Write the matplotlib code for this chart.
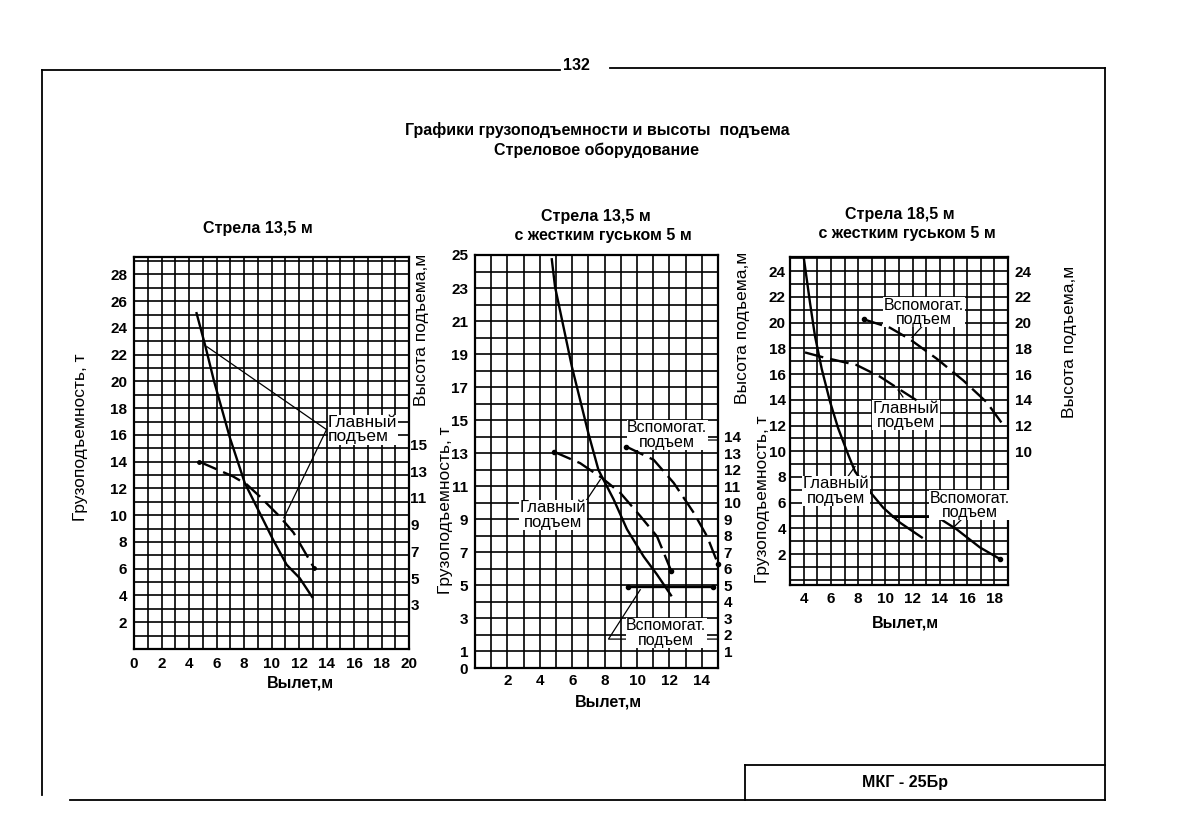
import matplotlib
matplotlib.use("Agg")
import matplotlib.pyplot as plt
from matplotlib.lines import Line2D
import numpy as np

plt.rcParams['font.family'] = ['Liberation Sans', 'DejaVu Sans']

# ---------------- data ----------------
page_number = "132"
main_title = "Графики грузоподъемности и высоты  подъема"
sub_title = "Стреловое оборудование"
stamp = "МКГ - 25Бр"
xlabel = "Вылет,м"
ylabel_left = "Грузоподъемность, т"
ylabel_right = "Высота подъема,м"

# Panel 1: Стрела 13,5 м
p1_title = "Стрела 13,5 м"
p1_main_x = [4.55, 5.2, 5.8, 6.97, 8.06, 10.1, 11.1, 12.05, 12.95]
p1_main_y = [25.1, 22.6, 20.1, 15.8, 12.4, 8.2, 6.3, 5.3, 3.9]
p1_height_x = [4.75, 7.2, 8.2, 9.15, 10.6, 11.6, 13.1]
p1_height_y = [13.7, 12.6, 12.0, 11.1, 9.6, 8.4, 5.75]
p1_xticks = [0, 2, 4, 6, 8, 10, 12, 14, 16, 18, 20]
p1_yticks = [2, 4, 6, 8, 10, 12, 14, 16, 18, 20, 22, 24, 26, 28]
p1_rticks = [3, 5, 7, 9, 11, 13, 15]

# Panel 2: Стрела 13,5 м с жестким гуськом 5 м
p2_title = "Стрела 13,5 м\n   с жестким гуськом 5 м"
p2_main_x = [4.74, 4.94, 5.46, 5.98, 6.49, 7.0, 7.62, 8.56, 9.38, 10.41, 11.24, 12.1]
p2_main_y = [24.74, 23.08, 20.66, 18.24, 16.22, 14.2, 11.99, 10.2, 8.4, 6.75, 5.65, 4.4]
p2_mainh_x = [4.85, 6.49, 7.84, 8.97, 10.2, 11.24, 12.1]
p2_mainh_y = [13.1, 12.4, 11.5, 10.6, 9.2, 7.96, 5.9]
p2_aux_x = [9.46, 14.7]
p2_aux_y = [4.9, 4.9]
p2_auxh_x = [9.34, 11.03, 12.27, 13.5, 14.33, 15.0]
p2_auxh_y = [13.4, 12.6, 11.2, 9.4, 7.96, 6.3]
p2_xticks = [2, 4, 6, 8, 10, 12, 14]
p2_yticks = [0, 1, 3, 5, 7, 9, 11, 13, 15, 17, 19, 21, 23, 25]
p2_rticks = list(range(1, 15))

# Panel 3: Стрела 18,5 м с жестким гуськом 5 м
p3_title = "Стрела 18,5 м\n   с жестким гуськом 5 м"
p3_main_x = [4.03, 4.47, 4.83, 5.33, 5.94, 6.54, 7.28, 7.77, 8.63, 9.85, 11.07, 12.67]
p3_main_y = [24.9, 21.53, 18.97, 16.39, 13.84, 11.77, 9.71, 8.43, 7.15, 5.6, 4.45, 3.3]
p3_aux_x = [10.56, 13.79, 15.23, 16.94, 18.41]
p3_aux_y = [4.9, 4.9, 3.93, 2.52, 1.62]
p3_mainh_x = [4.1, 5.44, 7.89, 9.6, 10.9, 12.67]
p3_mainh_y = [17.68, 17.3, 16.7, 15.8, 14.9, 13.7]
p3_auxh_x = [8.43, 10.34, 11.8, 13.76, 15.72, 17.44, 18.54]
p3_auxh_y = [20.25, 19.6, 18.7, 17.2, 15.5, 13.8, 12.2]
p3_xticks = [4, 6, 8, 10, 12, 14, 16, 18]
p3_yticks = [2, 4, 6, 8, 10, 12, 14, 16, 18, 20, 22, 24]
p3_rticks = [10, 12, 14, 16, 18, 20, 22, 24]

lbl_main = "Главный\nподъем"
lbl_aux = "Вспомогат.\nподъем"

# ---------------- figure ----------------
W, H = 1192, 832
fig = plt.figure(figsize=(W / 100, H / 100), dpi=100)
fig.patch.set_facecolor("white")


def fx(px):
    return px / W


def fy(py):
    return 1 - py / H


def add_ax(x0, y0, x1, y1):
    return fig.add_axes([fx(x0), fy(y1), fx(x1) - fx(x0), fy(y0) - fy(y1)])


DASH = (0, (8, 3))
TICKFS = 11
LW_GRID = 1.2
LW_CURVE = 1.7
AXFS = 12.5
TFS = 11.5


def setup(ax, xlim, ylim, xticks, yticks, xpad, ypad):
    ax.set_xlim(*xlim)
    ax.set_ylim(*ylim)
    ax.set_xticks(xticks)
    ax.set_yticks(yticks)
    ax.set_xticks(np.arange(np.ceil(xlim[0]), xlim[1] + 1e-6, 1), minor=True)
    ax.set_yticks(np.arange(np.ceil(ylim[0]), ylim[1] + 1e-6, 1), minor=True)
    ax.grid(True, which="both", color="black", lw=LW_GRID)
    ax.set_axisbelow(True)
    ax.tick_params(which="both", length=0)
    ax.tick_params(axis="x", pad=xpad, labelsize=TICKFS)
    ax.tick_params(axis="y", pad=ypad, labelsize=TICKFS)
    for lab in ax.get_xticklabels() + ax.get_yticklabels():
        lab.set_fontweight("bold")
    for s in ax.spines.values():
        s.set_linewidth(1.6)


def twin(ax, ylim, ticks, pad):
    r = ax.twinx()
    r.set_ylim(*ylim)
    r.set_yticks(ticks)
    r.tick_params(length=0, pad=pad, labelsize=TICKFS)
    for lab in r.get_yticklabels():
        lab.set_fontweight("bold")
    for s in r.spines.values():
        s.set_visible(False)
    return r


def label(ax, x, y, text, fs=11.5):
    ax.text(x, y, text, fontsize=fs, ha="center", va="center", linespacing=0.95,
            bbox=dict(facecolor="white", edgecolor="none", pad=0.3), zorder=5)


def leader(ax, xs, ys):
    ax.plot(xs, ys, color="black", lw=0.9, zorder=4)


# ---- Panel 1 ----
ax1 = add_ax(134, 257, 409, 649)
setup(ax1, (0, 20), (0, 29.3), p1_xticks, p1_yticks, 6, 5)
r1 = twin(ax1, (-0.3, 29.0), p1_rticks, 1)
ax1.plot(p1_main_x, p1_main_y, color="black", lw=LW_CURVE, zorder=3)
r1.plot(p1_height_x, p1_height_y, color="black", lw=LW_CURVE, ls=DASH, zorder=3)
r1.plot([p1_height_x[0], p1_height_x[-1]], [p1_height_y[0], p1_height_y[-1]], "o",
        color="black", ms=2.5)
leader(ax1, [14.0, 5.3], [16.4, 22.6])
leader(ax1, [14.0, 10.9], [16.4, 9.8])
ax1.text(14.1, 16.4, lbl_main, fontsize=12.5, ha="left", va="center", linespacing=0.95,
         bbox=dict(facecolor="white", edgecolor="none", pad=0.3), zorder=5)
ax1.text(-0.196, 0.541, ylabel_left, transform=ax1.transAxes, rotation=90,
         ha="center", va="center", fontsize=AXFS)
ax1.text(1.047, 0.814, ylabel_right, transform=ax1.transAxes, rotation=90,
         ha="center", va="center", fontsize=AXFS)

# ---- Panel 2 ----
ax2 = add_ax(475, 255, 718, 668)
setup(ax2, (0, 15), (0, 25), p2_xticks, p2_yticks, 4, 5)
r2 = twin(ax2, (0, 25), p2_rticks, 4)
ax2.plot(p2_main_x, p2_main_y, color="black", lw=LW_CURVE, zorder=3)
ax2.plot(p2_aux_x, p2_aux_y, color="black", lw=LW_CURVE, marker="o", ms=3, zorder=3)
r2.plot(p2_mainh_x, p2_mainh_y, color="black", lw=LW_CURVE, ls=DASH, zorder=3)
r2.plot(p2_auxh_x, p2_auxh_y, color="black", lw=LW_CURVE, ls=DASH, zorder=3, clip_on=False)
r2.plot([p2_mainh_x[0], p2_auxh_x[0], p2_auxh_x[-1], p2_mainh_x[-1]],
        [p2_mainh_y[0], p2_auxh_y[0], p2_auxh_y[-1], p2_mainh_y[-1]], "o",
        color="black", ms=3, clip_on=False)
leader(ax2, [9.89, 10.5, 14.9], [13.0, 13.8, 13.8])
leader(ax2, [6.49, 7.73], [9.58, 11.4])
leader(ax2, [10.2, 8.24, 14.9], [4.74, 1.75, 1.75])
label(ax2, 11.87, 14.1, lbl_aux)
label(ax2, 4.82, 9.26, lbl_main, fs=12)
label(ax2, 11.8, 2.12, lbl_aux)
ax2.text(-0.123, 0.383, ylabel_left, transform=ax2.transAxes, rotation=90,
         ha="center", va="center", fontsize=AXFS)
ax2.text(1.099, 0.823, ylabel_right, transform=ax2.transAxes, rotation=90,
         ha="center", va="center", fontsize=AXFS)

# ---- Panel 3 ----
ax3 = add_ax(790, 257, 1008, 585)
setup(ax3, (3, 19), (-0.4, 25.1), p3_xticks, p3_yticks, 5, 3)
r3 = twin(ax3, (-0.4, 25.1), p3_rticks, 5)
ax3.plot(p3_main_x, p3_main_y, color="black", lw=LW_CURVE, zorder=3)
ax3.plot(p3_aux_x, p3_aux_y, color="black", lw=LW_CURVE, zorder=3)
ax3.plot([p3_aux_x[-1]], [p3_aux_y[-1]], "o", color="black", ms=3)
r3.plot(p3_mainh_x, p3_mainh_y, color="black", lw=LW_CURVE, ls=DASH, zorder=3)
r3.plot(p3_auxh_x, p3_auxh_y, color="black", lw=LW_CURVE, ls=DASH, zorder=3)
r3.plot([p3_auxh_x[0]], [p3_auxh_y[0]], "o", color="black", ms=3)
leader(ax3, [11.95, 12.76], [18.85, 19.77])
leader(ax3, [10.93, 11.29], [14.76, 14.22])
leader(ax3, [7.16, 7.77], [7.91, 8.81])
leader(ax3, [14.96, 15.84], [4.03, 4.96])
label(ax3, 12.83, 20.8, lbl_aux)
label(ax3, 11.51, 12.8, lbl_main, fs=12)
label(ax3, 6.38, 6.9, lbl_main, fs=12)
label(ax3, 16.21, 5.8, lbl_aux)
ax3.text(-0.128, 0.26, ylabel_left, transform=ax3.transAxes, rotation=90,
         ha="center", va="center", fontsize=AXFS)
ax3.text(1.284, 0.741, ylabel_right, transform=ax3.transAxes, rotation=90,
         ha="center", va="center", fontsize=AXFS)

# ---- texts ----
fig.text(fx(576), fy(65), page_number, ha="center", va="center", fontsize=11.5, fontweight="bold")
fig.text(fx(597), fy(130), main_title, ha="center", va="center", fontsize=TFS, fontweight="bold")
fig.text(fx(597), fy(150), sub_title, ha="center", va="center", fontsize=TFS, fontweight="bold")
fig.text(fx(258), fy(228), p1_title, ha="center", va="center", fontsize=TFS, fontweight="bold")
fig.text(fx(596), fy(226), p2_title, ha="center", va="center", fontsize=TFS, fontweight="bold",
         linespacing=1.3)
fig.text(fx(900), fy(224), p3_title, ha="center", va="center", fontsize=TFS, fontweight="bold",
         linespacing=1.3)
fig.text(fx(300), fy(683), xlabel, ha="center", va="center", fontsize=TFS, fontweight="bold")
fig.text(fx(608), fy(702), xlabel, ha="center", va="center", fontsize=TFS, fontweight="bold")
fig.text(fx(905), fy(623), xlabel, ha="center", va="center", fontsize=TFS, fontweight="bold")


# ---- page frame ----
def fline(xs, ys, lw=1.3):
    fig.add_artist(Line2D([fx(x) for x in xs], [fy(y) for y in ys], color="black", lw=lw))


fline([42, 560], [70, 70])
fline([610, 1105], [68, 68])
fline([42, 42], [70, 795])
fline([1105, 1105], [68, 800])
fline([70, 1105], [800, 800])
fline([745, 1105], [765, 765])
fline([745, 745], [765, 800])
fig.text(fx(905), fy(783), stamp, ha="center", va="center", fontsize=TFS, fontweight="bold")

fig.savefig("out.png", dpi=100, facecolor="white")
